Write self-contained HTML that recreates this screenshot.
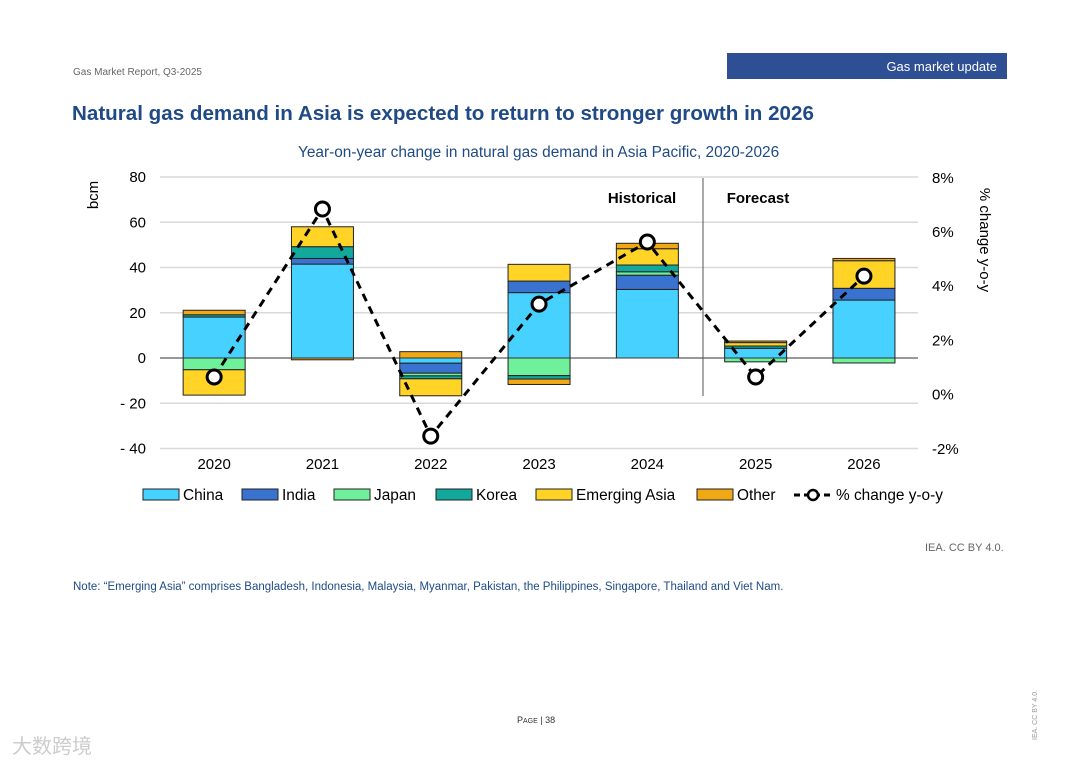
<!DOCTYPE html>
<html><head><meta charset="utf-8"><style>
body{margin:0;width:1080px;height:764px;background:#fff;font-family:"Liberation Sans",Arial,sans-serif;position:relative;overflow:hidden}
.a{position:absolute;white-space:nowrap}
</style></head><body>
<div class="a" style="left:73px;top:67px;font-size:10px;color:#666">Gas Market Report, Q3-2025</div>
<div class="a" style="left:727px;top:53px;width:280px;height:26px;background:#2e4f94;color:#fff;font-size:13px;text-align:right;box-sizing:border-box;padding:6px 10px 0 0">Gas market update</div>
<div class="a" style="left:72px;top:102px;font-size:20.6px;font-weight:bold;color:#1f4a86">Natural gas demand in Asia is expected to return to stronger growth in 2026</div>
<div class="a" style="left:298px;top:144px;font-size:15.4px;color:#1f4a86">Year-on-year change in natural gas demand in Asia Pacific, 2020-2026</div>
<div class="a" style="left:925px;top:542px;font-size:11px;color:#666">IEA. CC BY 4.0.</div>
<div class="a" style="left:73px;top:581px;font-size:11.5px;color:#1f4a86">Note: “Emerging Asia” comprises Bangladesh, Indonesia, Malaysia, Myanmar, Pakistan, the Philippines, Singapore, Thailand and Viet Nam.</div>
<div class="a" style="left:517px;top:715px;font-size:9px;color:#333">P<span style="font-size:7px">AGE</span> | 38</div>
<div class="a" style="left:1032px;top:740px;font-size:7px;color:#999;transform:rotate(-90deg);transform-origin:left top">IEA. CC BY 4.0.</div>
<div class="a" style="left:12px;top:730px;font-size:20px;color:#ccc;font-family:'Liberation Sans','Noto Sans CJK SC',sans-serif">大数跨境</div>
<svg class="a" style="left:0;top:0" width="1080" height="764" id="chart"></svg>
<script>
const years=["2020","2021","2022","2023","2024","2025","2026"];
const china=[18.1,41.5,-2.3,28.9,30.3,4.3,25.6];
const india=[0,2.5,-4.4,5.1,6.3,0,5.2];
const japan=[-5.2,0,-1.2,-7.8,1.5,-1.7,-2.2];
const korea=[1,5.2,-1.3,-1.5,3,1,0];
const emerging=[-11.2,8.8,-7.5,7.4,7.2,1.5,12.2];
const other=[2,-0.8,2.8,-2.4,2.4,0.7,1];
const pct=[0.65,6.85,-1.53,3.34,5.63,0.65,4.37];
const leftTicks=[80,60,40,20,0,-20,-40];
const rightTicks=[8,6,4,2,0,-2];
const series=[["China",china,"#47d1ff"],["India",india,"#3a72d0"],["Japan",japan,"#6ff09a"],["Korea",korea,"#12a89c"],["Emerging Asia",emerging,"#ffd426"],["Other",other,"#f0a815"]];
const svg=document.getElementById('chart');const NS="http://www.w3.org/2000/svg";
function el(t,a,txt){const e=document.createElementNS(NS,t);for(const k in a)e.setAttribute(k,a[k]);if(txt!=null)e.textContent=txt;svg.appendChild(e);return e;}
const x0=160,band=108.3,bw=62;
const y=v=>358-v*2.2625;
const yr=p=>394.6-p*27.1;
const xc=i=>x0+band*(i+0.5);
leftTicks.forEach(t=>{
 if(t!==0){const g=el('line',{x1:160,x2:918,y1:y(t),y2:y(t),stroke:'#d9d9d9','stroke-width':1.5});}
 const l=el('text',{x:146,y:y(t)+5,'text-anchor':'end','font-size':15,fill:'#000'},t<0?'- '+(-t):String(t));
 
});
rightTicks.forEach(t=>{const l=el('text',{x:932,y:yr(t)+5,'font-size':15},t+'%');});
let t1=el('text',{transform:'translate(98,195) rotate(-90)','text-anchor':'middle','font-size':15},'bcm');
let t2=el('text',{transform:'translate(980,240) rotate(90)','text-anchor':'middle','font-size':15},'% change y-o-y');
years.forEach((yy,i)=>{
 let pos=0,neg=0;
 series.forEach(([n,arr,c])=>{const v=arr[i];if(!v)return;let a,b;if(v>0){a=pos;b=pos+v;pos=b;}else{a=neg;b=neg+v;neg=b;}
  const r=el('rect',{x:xc(i)-bw/2,y:y(Math.max(a,b)),width:bw,height:Math.abs(v)*2.2625,fill:c,stroke:'#222','stroke-width':1});
  });
 const l=el('text',{x:xc(i),y:469,'text-anchor':'middle','font-size':15},yy);
});
let z=el('line',{x1:160,x2:918,y1:358,y2:358,stroke:'#333','stroke-width':1});
let d=el('line',{x1:703,x2:703,y1:178,y2:396,stroke:'#555','stroke-width':1});
let h=el('text',{x:642,y:203,'text-anchor':'middle','font-size':15,'font-weight':'bold'},'Historical');
let f=el('text',{x:758,y:203,'text-anchor':'middle','font-size':15,'font-weight':'bold'},'Forecast');
let pl=el('polyline',{points:pct.map((p,i)=>xc(i)+','+yr(p)).join(' '),fill:'none',stroke:'#000','stroke-width':3,'stroke-dasharray':'8,6'});

pct.forEach((p,i)=>{const c=el('circle',{cx:xc(i),cy:yr(p),r:7,fill:'#fff',stroke:'#000','stroke-width':3});});
const lx=[143,242,334,436,536,697];
series.forEach(([n,arr,c],k)=>{
 const r=el('rect',{x:lx[k],y:489,width:36,height:11,fill:c,stroke:'#222','stroke-width':1});
 const t=el('text',{x:lx[k]+40,y:500,'font-size':15.4},n);
});
let ll=el('line',{x1:794,x2:832,y1:495,y2:495,stroke:'#000','stroke-width':3,'stroke-dasharray':'6,4'});
let lc=el('circle',{cx:813,cy:495,r:5,fill:'#fff',stroke:'#000','stroke-width':2.5});
let lt=el('text',{x:836,y:500,'font-size':15.4},'% change y-o-y');
</script>
</body></html>
